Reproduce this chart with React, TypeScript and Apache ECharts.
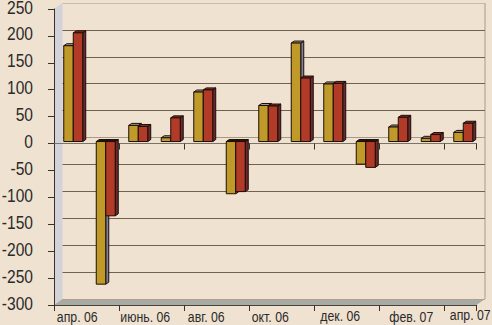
import React, { useEffect, useRef } from "react";
import * as echarts from "echarts";

const categories = ["апр. 06","май 06","июнь. 06","июль 06","авг. 06","сент. 06","окт. 06","нояб. 06","дек. 06","янв. 07","фев. 07","март 07","апр. 07"];
const goldValues = [178,-265,30,7,92,-97,67,183,107,-42,27,6,17];
const redValues = [202,-138,28,44,96,-93,66,118,108,-48,45,13,34];
const yTickValues = [250,200,150,100,50,0,-50,-100,-150,-200,-250,-300];
const yTicks = { min: -300, max: 250, step: 50 };

const labelNudgeX: Record<number, number> = { 0: 7, 2: 10, 4: 6, 6: 5, 8: 10, 10: 16, 12: 10 };
const labelNudgeY: Record<number, number> = { 8: -1, 12: -2 };

const BG = "#f0e2d0";
const FONT = "'Liberation Sans',sans-serif";
const TEXT = "#2a2a2a";
const SQUEEZE = 0.82;
const DX = 3, DY = -2, SHIFT_X = 3, SHIFT_Y = -2;

const box = (api: any, palette: any, side: number) => {
  const v = api.value(1);
  const base = api.coord([api.value(0), 0]);
  const end = api.coord([api.value(0), v]);
  const w = api.size([1, 0])[0] * 0.292;
  const x0 = base[0] + SHIFT_X + (side < 0 ? -w : 0);
  const x1 = x0 + w;
  const y0 = base[1] + SHIFT_Y;
  const y1 = end[1] + SHIFT_Y;
  const top = Math.min(y0, y1), bot = Math.max(y0, y1);
  const stroke = "#1a0d08";
  const poly = (points: number[][], fill: string) => ({
    type: "polygon", shape: { points }, style: { fill, stroke, lineWidth: 1 },
  });
  return {
    type: "group",
    children: [
      poly([[x1, top],[x1+DX, top+DY],[x1+DX, bot+DY],[x1, bot]], palette.side),
      poly([[x0, top],[x0+DX, top+DY],[x1+DX, top+DY],[x1, top]], v >= 0 ? palette.top : "#2c120c"),
      poly([[x0, top],[x1, top],[x1, bot],[x0, bot]], palette.front),
    ],
  };
};

const gold = { front: "#c09a28", side: "#80809c", top: "#a8a098" };
const red = { front: "#b23b27", side: "#6a2a30", top: "#8a3028" };

export default function App() {
  const ref = useRef<HTMLDivElement>(null);
  useEffect(() => {
    document.body.style.margin = "0";
    document.body.style.background = BG;
    const chart = echarts.init(ref.current!, null, { renderer: "svg" });
    const L = 54, R = 476.5, T = 9, B = 305, OX = 8.5, OY = -6;
    const gridLineColors = ["#b0a08e","#75604e","#75604e","#75604e","#75604e","#75604e","#a89a88","#75604e","#75604e","#75604e","#75604e","#c8baa6"];
    chart.setOption({
      animation: false,
      backgroundColor: BG,
      grid: [
        { left: L, top: T, width: R - L, height: B - T, outerBoundsMode: "none" },
        { left: L + OX, top: T + OY, width: R - L, height: B - T, outerBoundsMode: "none" },
      ],
      graphic: [
        { type: "polygon", z: -1, shape: { points: [[L,T],[L+OX,T+OY],[L+OX,B+OY],[L,B]] }, style: { fill: "#d2d2d8" } },
        { type: "polygon", z: -1, shape: { points: [[L,B],[L+OX,B+OY],[R+OX,B+OY],[R,B]] }, style: { fill: "#a8aaa4" } },
        { type: "line", z: -1, shape: { x1: R+OX, y1: T+OY, x2: R+OX, y2: B+OY }, style: { stroke: "#a89a88", lineWidth: 1 } },
      ],
      xAxis: [
        {
          type: "category", gridIndex: 0, data: categories, position: "bottom",
          axisLine: { onZero: false, lineStyle: { color: "#4a4238", width: 1 } },
          axisTick: { show: true, interval: 1, length: 6, lineStyle: { color: "#3a3228" } },
          axisLabel: { show: false },
        },
        {
          type: "category", gridIndex: 0, data: categories, position: "top",
          axisLine: { onZero: true, lineStyle: { color: "#7a7468", width: 1 } },
          axisTick: { show: true, inside: true, interval: 1, length: 6, lineStyle: { color: "#3a3228" } },
          axisLabel: { show: false },
        },
        { type: "category", gridIndex: 1, data: categories, show: false },
      ],
      yAxis: [
        {
          type: "value", gridIndex: 0, min: yTicks.min, max: yTicks.max, interval: yTicks.step,
          axisLine: { show: true, onZero: false, lineStyle: { color: "#3a3228" } },
          axisTick: { show: true, length: 6, lineStyle: { color: "#3a3228" } },
          splitLine: { show: false },
          axisLabel: { show: false },
        },
        {
          type: "value", gridIndex: 1, min: yTicks.min, max: yTicks.max, interval: yTicks.step,
          axisLine: { show: false }, axisTick: { show: false }, axisLabel: { show: false },
          splitLine: { show: true, lineStyle: { color: gridLineColors, width: 1 } },
        },
      ],
      series: [
        {
          type: "custom", xAxisIndex: 0, yAxisIndex: 0, clip: false, z: 5,
          encode: { x: 0, y: 1 },
          data: goldValues.map((v, i) => [i, v]),
          renderItem: (_p: any, api: any) => box(api, gold, -1),
        },
        {
          type: "custom", xAxisIndex: 0, yAxisIndex: 0, clip: false, z: 6,
          encode: { x: 0, y: 1 },
          data: redValues.map((v, i) => [i, v]),
          renderItem: (_p: any, api: any) => box(api, red, 1),
        },
        {
          // value-axis labels, squeezed to the reference's condensed face
          type: "custom", xAxisIndex: 0, yAxisIndex: 0, clip: false, z: 7, silent: true,
          encode: { x: 0, y: 1 },
          data: yTickValues.map((v) => [0, v]),
          renderItem: (p: any, api: any) => {
            const c = api.coord([0, api.value(1)]);
            return {
              type: "text", x: p.coordSys.x - 21, y: c[1] - 2, scaleX: SQUEEZE,
              style: { text: String(api.value(1)), fontSize: 19, lineHeight: 14, fontFamily: FONT, fill: TEXT, align: "right", verticalAlign: "middle" },
            };
          },
        },
        {
          // category labels, every second month
          type: "custom", xAxisIndex: 0, yAxisIndex: 0, clip: false, z: 7, silent: true,
          encode: { x: 0, y: 1 },
          data: categories.map((_, i) => [i, yTicks.min]).filter((d) => d[0] % 2 === 0),
          renderItem: (_p: any, api: any) => {
            const i = api.value(0);
            const c = api.coord([i, yTicks.min]);
            return {
              type: "text", x: c[0] + labelNudgeX[i], y: c[1] + 12 + (labelNudgeY[i] || 0), scaleX: SQUEEZE,
              style: { text: categories[i], fontSize: 15, fontFamily: FONT, fill: TEXT, align: "center", verticalAlign: "middle" },
            };
          },
        },
      ],
    });
    return () => chart.dispose();
  }, []);
  return <div ref={ref} style={{ width: 492, height: 325 }} />;
}
